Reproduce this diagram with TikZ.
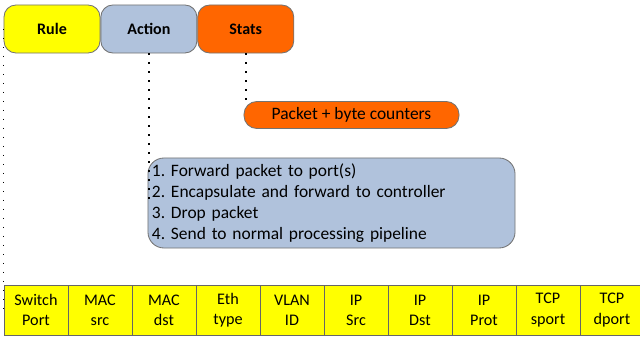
\documentclass[tikz,border=0pt]{standalone}
\usepackage{fontspec}
\setmainfont{Carlito}
\usetikzlibrary{positioning}

\definecolor{ruleyellow}{HTML}{FFFF00}
\definecolor{actionblue}{HTML}{B0C2DC}
\definecolor{statsorange}{HTML}{FF6600}

\begin{document}
\frenchspacing
\begin{tikzpicture}[x=0.025cm, y=-0.025cm, font=\fontsize{12.4}{14.9}\selectfont,
    tab/.style={draw=black!55, line width=0.6pt, rounded corners=0.3cm,
      minimum width=2.4cm, minimum height=1.2cm, inner sep=0pt, font=\fontsize{11.4}{14.5}\selectfont\bfseries},
    field/.style={draw=black!60, line width=0.6pt, fill=ruleyellow, minimum width=1.6cm,
      minimum height=1.25cm, inner sep=0pt, align=center, font=\fontsize{11.5}{14.4}\selectfont},
    link/.style={line width=1.1pt, dash pattern=on 1pt off 5.4pt}]

  \useasboundingbox (0,0) rectangle (640,340);

  % header of a flow entry
  \node[tab, fill=ruleyellow] (rule) at (52,29) {Rule};
  \node[tab, fill=actionblue, right=0pt of rule] (action) {Action};
  \node[tab, fill=statsorange, right=0pt of action] (stats) {Stats};

  % what the stats hold
  \node[draw=black!55, line width=0.6pt, fill=statsorange, rounded corners=0.32cm,
    minimum width=5.375cm, minimum height=0.675cm, inner sep=0pt] (counters) at (351.5,115) {Packet + byte counters};

  % possible actions
  \node[draw=black!55, line width=0.6pt, fill=actionblue, rounded corners=0.4cm,
    minimum height=2.25cm, text width=8.975cm, inner xsep=0.1cm, align=left] (actions) at (331.5,203)
    {1. Forward packet to port(s)\\
     2. Encapsulate and forward to controller\\
     3. Drop packet\\
     4. Send to normal processing pipeline};

  % match fields
  \foreach \i/\txt in {1/{Switch\\Port}, 2/{MAC\\src}, 3/{MAC\\dst}, 4/{Eth\\type},
      5/{VLAN\\ID}, 6/{IP\\Src}, 7/{IP\\Dst}, 8/{IP\\Prot}, 9/{TCP\\sport}, 10/{TCP\\dport}}
    \node[field] (f\i) at ({4+64*(\i-1)+32},310) {\txt};

  \draw[link] (rule.west) -- (rule.west |- f1.west);
  \draw[link] (action.south) -- (action.south |- actions.west);
  \draw[link] (stats.south) -- (stats.south |- counters.north);

\end{tikzpicture}
\end{document}
